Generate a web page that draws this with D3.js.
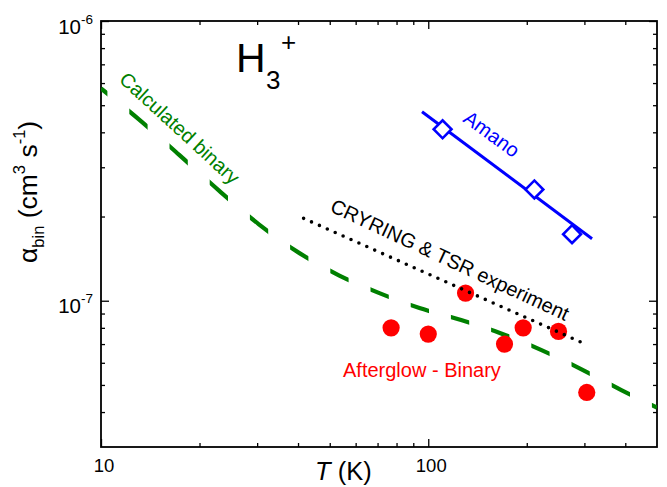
<!DOCTYPE html>
<html><head><meta charset="utf-8">
<script src="https://cdn.jsdelivr.net/npm/d3@7"></script>
<style>body{margin:0;background:#fff;} svg{display:block;} text{font-family:Arial,"Liberation Sans",sans-serif;}</style>
</head><body><svg id="c" width="667" height="487"></svg>
<script>
// ---- data ----
const calcT = [10, 13.0, 17.3, 22.9, 30.3, 40.4, 53.5, 70.9, 94.0, 126, 167, 221, 293, 389, 500];
const calcA = [5.74e-7, 4.47e-7, 3.33e-7, 2.48e-7, 1.88e-7, 1.48e-7, 1.23e-7, 1.065e-7, 9.42e-8, 8.53e-8, 7.64e-8, 6.67e-8, 5.70e-8, 4.79e-8, 4.15e-8];
const afterT = [77, 100, 130, 171, 195, 250, 305];
const afterA = [8.0e-8, 7.6e-8, 1.065e-7, 7.0e-8, 8.0e-8, 7.77e-8, 4.7e-8];
const cryT = [41.6, 302];
const cryA = [1.97e-7, 7.0e-8];
const amanoLineT = [95.7, 316.6];
const amanoLineA = [4.74e-7, 1.665e-7];
const amanoT = [110.6, 211, 275];
const amanoA = [4.1e-7, 2.5e-7, 1.73e-7];
const xMajor = [10, 100];
const xMinor = [20, 30, 40, 50, 60, 70, 80, 90, 200, 300, 400];
const yMajor = [1e-7, 1e-6];
const yMinor = [4e-8, 5e-8, 6e-8, 7e-8, 8e-8, 9e-8, 2e-7, 3e-7, 4e-7, 5e-7, 6e-7, 7e-7, 8e-7, 9e-7];
const xLabels = ["10", "100"];
const yExp = ["-7", "-6"];

// ---- layout ----
const L = 101, R = 657, T = 21, B = 447;
const svg = d3.select("#c");
const x = d3.scaleLog().domain([10, 500]).range([L, R]);
const y = d3.scaleLog().domain([3e-8, 1e-6]).range([B, T]);

const defs = svg.append("defs");
defs.append("clipPath").attr("id", "plot").append("rect")
  .attr("x", L).attr("y", T).attr("width", R - L).attr("height", B - T);
// dash strips for the calculated curve (periodic in x)
const period = 40.2, dashLen = 18.3, phase = -11.9;
const strips = defs.append("clipPath").attr("id", "dash");
for (let s = L + phase; s < R; s += period) {
  strips.append("rect").attr("x", Math.max(s, L)).attr("y", T)
    .attr("width", Math.min(s + dashLen, R) - Math.max(s, L)).attr("height", B - T);
}

// ---- axes (ticks inward) ----
function addAxis(axisFn, vals, size, transform) {
  svg.append("g").attr("transform", transform)
    .call(axisFn.tickValues(vals).tickSize(-size).tickFormat(""))
    .call(g => g.select(".domain").remove())
    .call(g => g.selectAll("line").attr("stroke", "#000").attr("stroke-width", 1.3));
}
addAxis(d3.axisBottom(x), xMajor, 8, `translate(0,${B})`);
addAxis(d3.axisBottom(x), xMinor, 4, `translate(0,${B})`);
addAxis(d3.axisTop(x), xMajor, 8, `translate(0,${T})`);
addAxis(d3.axisTop(x), xMinor, 4, `translate(0,${T})`);
addAxis(d3.axisLeft(y), yMajor, 8, `translate(${L},0)`);
addAxis(d3.axisLeft(y), yMinor, 4, `translate(${L},0)`);
addAxis(d3.axisRight(y), yMajor, 8, `translate(${R},0)`);
addAxis(d3.axisRight(y), yMinor, 4, `translate(${R},0)`);
svg.append("rect").attr("x", L).attr("y", T).attr("width", R - L).attr("height", B - T)
  .attr("fill", "none").attr("stroke", "#000").attr("stroke-width", 1.8);

// tick labels
xMajor.forEach((v, i) => {
  svg.append("text").attr("x", x(v) + 3).attr("y", 472).attr("text-anchor", "middle")
    .attr("font-size", 18.5).text(xLabels[i]);
});
yMajor.forEach((v, i) => {
  const t = svg.append("text").attr("x", 93).attr("y", y(v) + 12.5).attr("text-anchor", "end").attr("font-size", 20.5);
  t.append("tspan").text("10");
  t.append("tspan").attr("font-size", 13.5).attr("dy", -10).text(yExp[i]);
});

// axis titles
const xt = svg.append("text").attr("x", 315).attr("y", 480).attr("font-size", 25.5);
xt.append("tspan").attr("font-style", "italic").text("T");
xt.append("tspan").text(" (K)");
const yt = svg.append("text").attr("transform", "translate(37,263) rotate(-90)").attr("font-size", 26.5);
yt.append("tspan").text("α");
yt.append("tspan").attr("font-size", 16.5).attr("dy", 7).text("bin");
yt.append("tspan").attr("dy", -7).text(" (cm");
yt.append("tspan").attr("font-size", 16.5).attr("dy", -12).text("3");
yt.append("tspan").attr("dy", 12).text(" s");
yt.append("tspan").attr("font-size", 16.5).attr("dy", -12).text("-1");
yt.append("tspan").attr("dy", 12).text(")");

// ---- marks ----
const plot = svg.append("g").attr("clip-path", "url(#plot)");
const line = d3.line().x(d => x(d[0])).y(d => y(d[1]));
plot.append("g").attr("clip-path", "url(#dash)").append("path")
  .datum(calcT.map((t, i) => [t, calcA[i]]))
  .attr("d", line.curve(d3.curveMonotoneX)).attr("fill", "none")
  .attr("stroke", "#008000").attr("stroke-width", 4.2);

plot.selectAll("circle.ag").data(afterT.map((t, i) => [t, afterA[i]])).enter()
  .append("circle").attr("cx", d => x(d[0])).attr("cy", d => y(d[1])).attr("r", 8.6).attr("fill", "#ff0000");

const lineStraight = d3.line().x(d => x(d[0])).y(d => y(d[1]));
plot.append("path").datum(cryT.map((t, i) => [t, cryA[i]])).attr("d", lineStraight)
  .attr("fill", "none").attr("stroke", "#000").attr("stroke-width", 3.6)
  .attr("stroke-linecap", "round").attr("stroke-dasharray", "0 8.65");

plot.append("path").datum(amanoLineT.map((t, i) => [t, amanoLineA[i]])).attr("d", lineStraight)
  .attr("fill", "none").attr("stroke", "#0000ff").attr("stroke-width", 3);
plot.selectAll("rect.am").data(amanoT.map((t, i) => [t, amanoA[i]])).enter()
  .append("rect").attr("x", -6.3).attr("y", -6.3).attr("width", 12.6).attr("height", 12.6)
  .attr("transform", d => `translate(${x(d[0])},${y(d[1])}) rotate(45)`)
  .attr("fill", "#fff").attr("stroke", "#0000ff").attr("stroke-width", 2.6);

// ---- annotations ----
svg.append("text").attr("transform", "translate(118,81) rotate(42.5)").attr("font-size", 20)
  .attr("fill", "#008000").text("Calculated binary");
svg.append("text").attr("transform", "translate(462,121) rotate(36)").attr("font-size", 20)
  .attr("fill", "#0000ff").text("Amano");
svg.append("text").attr("transform", "translate(329,211) rotate(25)").attr("font-size", 20)
  .attr("fill", "#000").text("CRYRING & TSR experiment");
svg.append("text").attr("x", 343).attr("y", 377).attr("font-size", 20)
  .attr("fill", "#ff0000").text("Afterglow - Binary");
const h = svg.append("text").attr("font-size", 41);
h.append("tspan").attr("x", 236).attr("y", 72).text("H");
h.append("tspan").attr("x", 266).attr("y", 89).attr("font-size", 26).text("3");
h.append("tspan").attr("x", 281).attr("y", 51).attr("font-size", 26).text("+");
</script></body></html>
